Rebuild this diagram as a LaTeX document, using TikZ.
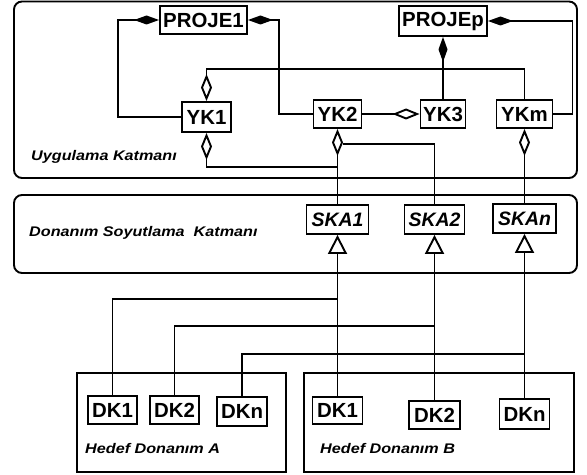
\documentclass[tikz,border=0pt]{standalone}
\usepackage{fontspec}
\usepackage{graphicx}
\setmainfont{Liberation Sans}
\usetikzlibrary{arrows.meta}
\tikzset{
  lw/.style={line width=1.9bp},
  sz/.style 2 args={minimum width=#1bp, minimum height=#2bp},
  box/.style={draw, lw, inner sep=0pt, fill=white, font=\fontsize{20.5}{24}\selectfont\bfseries},
  ibox/.style={box, font=\fontsize{19.5}{23}\selectfont\bfseries\itshape},
  layer/.style={draw, lw, rounded corners=8bp},
  hwbox/.style={draw, lw},
  lbl/.style={anchor=base west, inner sep=0pt, font=\fontsize{14}{16}\selectfont\bfseries\itshape},
  conn/.style={lw},
  comp/.style={conn, -{Diamond[length=25bp,width=9bp]}},
  agg/.style={conn, -{Diamond[open,length=27bp,width=11bp]}},
  gen/.style={conn, -{Triangle[open,length=19bp,width=19bp]}},
}
\newcommand{\wide}[1]{\scalebox{1.16}[1]{#1}}
\begin{document}
\begin{tikzpicture}[x=1bp, y=-1bp]
\useasboundingbox (0,0) rectangle (587,475);

% layers
\draw[layer] (14,1.5) rectangle (577,178);
\draw[layer] (14,195) rectangle (577,273);
\draw[hwbox] (77,373) rectangle (286,472);
\draw[hwbox] (304,373) rectangle (574,472);

% labels
\node[lbl] (lU) at (31,161) {\wide{Uygulama Katmanı}};
\node[lbl] (lD) at (29,237) {\wide{Donanım Soyutlama\ \ Katmanı}};
\node[lbl] (lA) at (85,453) {\wide{Hedef Donanım A}};
\node[lbl] (lB) at (320,453) {\wide{Hedef Donanım B}};

% application layer nodes
\node[box, sz={87}{28}] (P1) at (203.5,20) {PROJE1};
\node[box, sz={88}{30}] (Pp) at (443,21) {PROJEp};
\node[box, sz={49}{30}] (YK1) at (206.5,117) {YK1};
\node[box, sz={48}{28}] (YK2) at (337.5,114) {YK2};
\node[box, sz={45}{28}] (YK3) at (443,114) {YK3};
\node[box, sz={56}{28}] (YKm) at (524.5,114) {YKm};

% abstraction layer nodes
\node[ibox, sz={62}{29}] (S1) at (337.5,219.5) {SKA1};
\node[ibox, sz={60}{29}] (S2) at (434.5,219.5) {SKA2};
\node[ibox, sz={63}{29}] (Sn) at (524.5,218.5) {SKAn};

% hardware nodes
\node[box, sz={49}{28}] (A1) at (112.5,410) {DK1};
\node[box, sz={49}{28}] (A2) at (174.5,410) {DK2};
\node[box, sz={50}{29}] (An) at (242,411.5) {DKn};
\node[box, sz={50}{27}] (B1) at (337.5,410.5) {DK1};
\node[box, sz={51}{28}] (B2) at (434.5,415) {DK2};
\node[box, sz={50}{30}] (Bn) at (524.5,414) {DKn};

% composition to projects
\draw[comp] (YK1.west) -- ++(-63,0) |- (P1.west);
\draw[comp] (YK2.west) -- ++(-34,0) |- (P1.east);
\draw[comp] (YKm.east) -- ++(19,0) |- (Pp.east);
\draw[comp] (YK3.north) -- (Pp.south);

% aggregations
\draw[agg] (YKm.north) -- ++(0,-30) -| (YK1.north);
\draw[agg] (YK2.east) -- (YK3.west);
\draw[agg] (S1.north) -- ++(0,-37) -| (YK1.south);
\draw[agg] (S1.north) -- (YK2.south);
\draw[conn] (S2.north) |- ([xshift=5.5bp,yshift=-15bp]YK2.south);
\draw[agg] (Sn.north) -- (YKm.south);

% generalisations
\draw[gen] (B1.north) -- (S1.south);
\draw[gen] (B2.north) -- (S2.south);
\draw[gen] (Bn.north) -- (Sn.south);
\draw[conn] (A1.north) |- ([yshift=-64bp]S1.south);
\draw[conn] (A2.north) |- ([yshift=-91bp]S2.south);
\draw[conn] (An.north) |- ([yshift=-120bp]Sn.south);
\end{tikzpicture}
\end{document}
